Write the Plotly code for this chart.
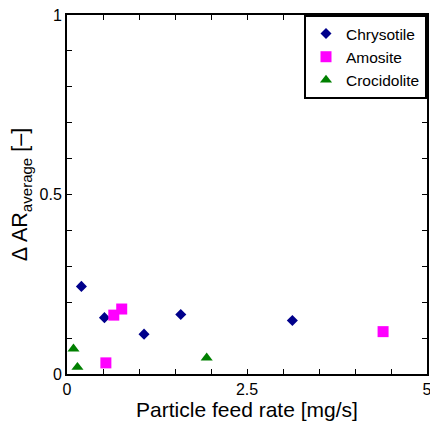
import plotly.graph_objects as go

# Data
chrysotile_x = [0.20, 0.52, 1.07, 1.58, 3.13]
chrysotile_y = [0.244, 0.157, 0.111, 0.166, 0.149]
amosite_x = [0.54, 0.65, 0.76, 4.39]
amosite_y = [0.031, 0.164, 0.181, 0.118]
crocidolite_x = [0.09, 0.145, 1.94]
crocidolite_y = [0.070, 0.019, 0.045]

x_tickvals = [0, 0.5, 1, 1.5, 2, 2.5, 3, 3.5, 4, 4.5, 5]
x_ticktext = ["0", "", "", "", "", "2.5", "", "", "", "", "5"]
y_tickvals = [0, 0.1, 0.2, 0.3, 0.4, 0.5, 0.6, 0.7, 0.8, 0.9, 1]
y_ticktext = ["0", "", "", "", "", "0.5", "", "", "", "", "1"]

FONT = "Liberation Sans, Arial, sans-serif"

fig = go.Figure()
fig.add_trace(go.Scatter(x=chrysotile_x, y=chrysotile_y, mode="markers", name="Chrysotile",
                         marker=dict(symbol="diamond", size=8.5, color="#00008B")))
fig.add_trace(go.Scatter(x=amosite_x, y=amosite_y, mode="markers", name="Amosite",
                         marker=dict(symbol="square", size=11, color="#FF00FF")))
fig.add_trace(go.Scatter(x=crocidolite_x, y=crocidolite_y, mode="markers", name="Crocidolite",
                         marker=dict(symbol="triangle-up", size=10.5, color="#008000")))

axis_common = dict(showline=True, linecolor="black", linewidth=2, mirror="ticks",
                   ticks="inside", ticklen=5, tickwidth=1, tickcolor="black",
                   showgrid=False, zeroline=False, automargin=False,
                   ticklabeloverflow="allow",
                   tickfont=dict(size=16, color="black"))

fig.update_xaxes(range=[0, 5], tickmode="array", tickvals=x_tickvals, ticktext=x_ticktext,
                 ticklabelstandoff=0,
                 title=dict(text="Particle feed rate [mg/s]", font=dict(size=21, color="black"), standoff=4),
                 **axis_common)
fig.update_yaxes(range=[0, 1], tickmode="array", tickvals=y_tickvals, ticktext=y_ticktext,
                 ticklabelstandoff=0,
                 title=dict(text="Δ AR<sub>average</sub> [–]", font=dict(size=21.5, color="black"), standoff=6),
                 **axis_common)

fig.update_layout(
    width=430, height=424,
    margin=dict(l=67, r=3, t=15, b=50),
    paper_bgcolor="white", plot_bgcolor="white",
    font=dict(family=FONT, color="black"),
    showlegend=True,
    legend=dict(x=1, y=1, xanchor="right", yanchor="top",
                bordercolor="black", borderwidth=2, bgcolor="white",
                font=dict(size=15.5, color="black"), itemwidth=30,
                tracegroupgap=0),
)

fig.write_html("out.html", config={"displayModeBar": False},
               post_script="document.body.style.margin='0';document.body.style.overflow='hidden';")
